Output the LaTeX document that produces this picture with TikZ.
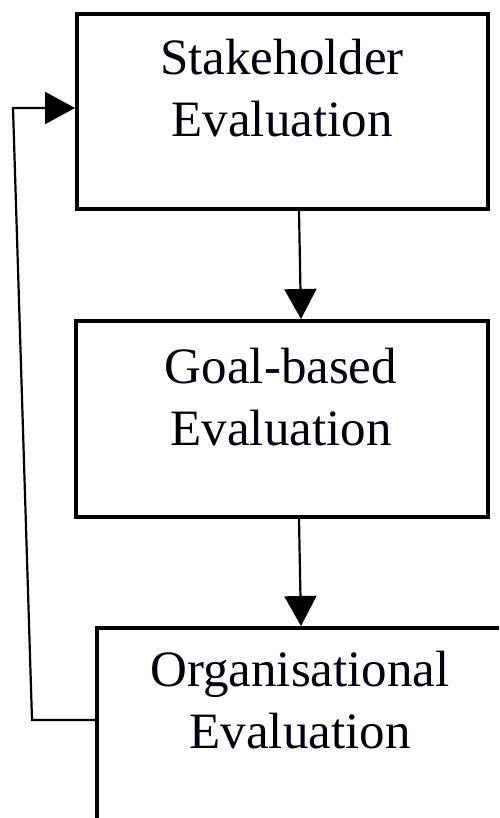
\documentclass[tikz,border=0pt]{standalone}
\usepackage{fontspec}
\setmainfont{Liberation Serif}
\usetikzlibrary{arrows.meta}
\begin{document}
\begin{tikzpicture}[x=1pt,y=-1pt,
  box/.style={draw=black, line width=4pt, fill=white, inner sep=0pt},
  lbl/.style={font=\fontsize{51}{62}\selectfont, align=center, inner sep=0pt, text=black!95!blue},
  flow/.style={draw=black, line width=2.2pt, -{Triangle[width=32pt,length=30pt]}}]
  \useasboundingbox (0,0) rectangle (499,818);
  \clip (0,0) rectangle (499,818);
  \fill[white] (0,0) rectangle (499,818);

  % the three evaluation stages
  \node[box, minimum width=411pt, minimum height=195pt] (stake) at (282.5,111.5) {};
  \node[box, minimum width=412pt, minimum height=196pt] (goal) at (282,419) {};
  \node[box, minimum width=406pt, minimum height=196pt] (org) at (300,726) {};

  % labels, placed by the baseline of their second line
  \node[lbl, anchor=base] (stakeT) at (282,137) {Stakeholder\\Evaluation};
  \node[lbl, anchor=base] (goalT) at (281,445) {Goal-based\\Evaluation};
  \node[lbl, anchor=base] (orgT) at (300,748) {Organisational\\Evaluation};

  % downward flow between stages
  \coordinate (c1) at (299,0);
  \coordinate (c2) at (301,0);
  \draw[flow] (stake.south -| c1) -- (goal.north -| c2);
  \draw[flow] (goal.south -| c1) -- (org.north -| c2);

  % feedback loop from the last stage back to the first
  \coordinate (fbBottom) at (32,720);
  \coordinate (fbTop) at (13,108);
  \draw[flow] (org.west |- fbBottom) -- (fbBottom) -- (fbTop) -- (stake.west |- fbTop);
\end{tikzpicture}
\end{document}
